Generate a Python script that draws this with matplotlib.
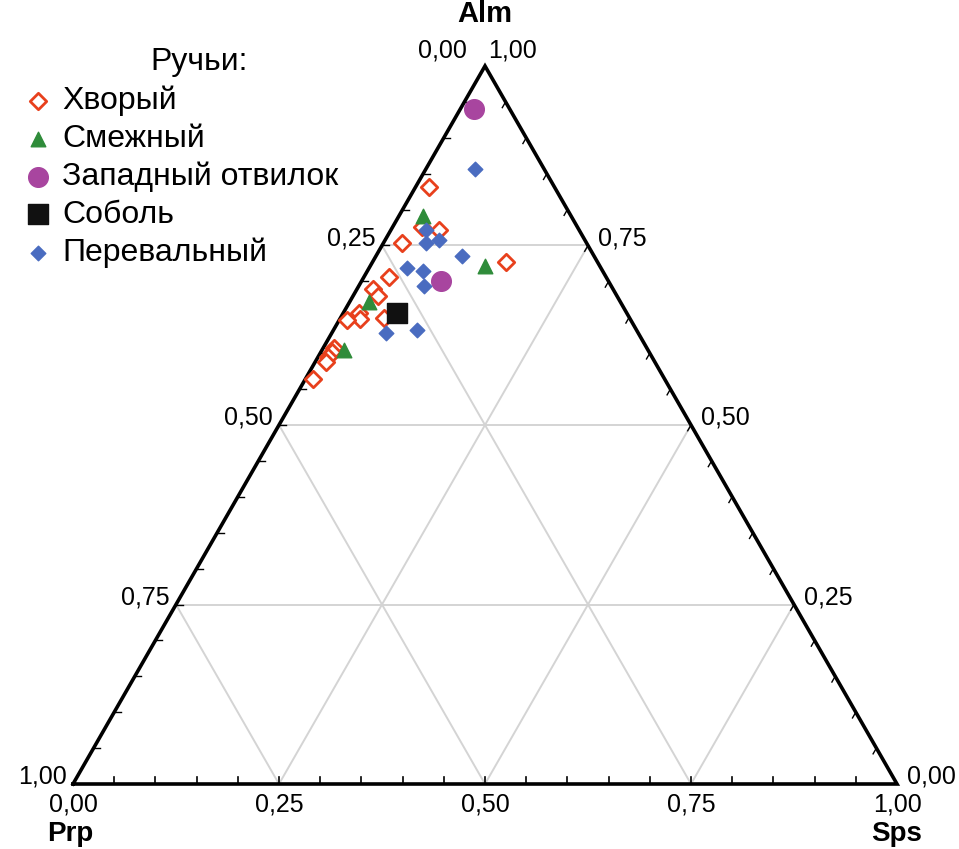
import matplotlib
matplotlib.use("Agg")
import matplotlib.pyplot as plt
import numpy as np

plt.rcParams["font.family"] = ["Liberation Sans", "DejaVu Sans"]

# garnet end-member fractions (Alm, Sps); Prp = 1 - Alm - Sps
khvoryi_alm = [0.831, 0.776, 0.772, 0.753, 0.727, 0.706, 0.690, 0.679, 0.656, 0.648,
               0.646, 0.649, 0.607, 0.602, 0.595, 0.588, 0.564]
khvoryi_sps = [0.016, 0.035, 0.058, 0.023, 0.162, 0.031, 0.019, 0.031, 0.019, 0.024,
               0.009, 0.053, 0.013, 0.013, 0.012, 0.013, 0.009]
smezhnyi_alm = [0.791, 0.721, 0.672, 0.605]
smezhnyi_sps = [0.029, 0.139, 0.023, 0.026]
zapadnyi_alm = [0.940, 0.700]
zapadnyi_sps = [0.017, 0.096]
sobol_alm = [0.656]
sobol_sps = [0.065]
perevalnyi_alm = [0.856, 0.771, 0.753, 0.757, 0.735, 0.719, 0.714, 0.693, 0.628, 0.633]
perevalnyi_sps = [0.060, 0.043, 0.052, 0.066, 0.105, 0.046, 0.068, 0.079, 0.066, 0.101]

grid_levels = [0.25, 0.50, 0.75]
tick_text = ["0,00", "0,25", "0,50", "0,75", "1,00"]

H = np.sqrt(3) / 2


def to_xy(alm, sps):
    alm = np.asarray(alm, dtype=float)
    sps = np.asarray(sps, dtype=float)
    return sps + alm / 2, alm * H


fig = plt.figure(figsize=(9.59, 8.49), dpi=100)
ax = fig.add_axes([0, 0, 1, 1])
ax.set_xlim(-73 / 824, (959 - 73) / 824)
ax.set_ylim(-(849 - 784) / 829.1, H + 66 / 829.1)
ax.axis("off")

# grid lines for each component
for g in grid_levels:
    # constant Alm
    x, y = to_xy([g, g], [0, 1 - g])
    ax.plot(x, y, color="#d4d4d4", lw=1.4, zorder=1)
    # constant Sps
    x, y = to_xy([0, 1 - g], [g, g])
    ax.plot(x, y, color="#d4d4d4", lw=1.4, zorder=1)
    # constant Prp
    x, y = to_xy([0, 1 - g], [1 - g, 0])
    ax.plot(x, y, color="#d4d4d4", lw=1.4, zorder=1)

# triangle frame
ax.plot([0, 1, 0.5, 0], [0, 0, H, 0], color="black", lw=2.6, zorder=3,
        solid_joinstyle="miter")

# small ticks every 0.05
tl = 0.008
for t in np.arange(0.05, 1.0, 0.05):
    ax.plot([t, t], [0, tl], color="black", lw=1.2, zorder=3)
    lx, ly = to_xy(1 - t, 0)
    ax.plot([lx, lx + tl], [ly, ly], color="black", lw=1.0, zorder=3)
    rx, ry = to_xy(t, 1 - t)
    ax.plot([rx, rx - tl * 0.5], [ry, ry - tl * H], color="black", lw=1.0, zorder=3)

fs = 18
for i, txt in enumerate(tick_text):
    v = i * 0.25
    # bottom axis: Sps
    ax.text(v, -0.010, tick_text[i], ha="center", va="top", fontsize=fs)
    # left axis: Prp (0 at apex)
    lx, ly = to_xy(1 - v, 0)
    if i == 0:
        ax.text(lx - 0.022, ly + 0.004, txt, ha="right", va="bottom", fontsize=fs)
    else:
        ax.text(lx - 0.008, ly - 0.006, txt, ha="right", va="bottom", fontsize=fs)
    # right axis: Alm
    rx, ry = to_xy(v, 1 - v)
    if i == 4:
        ax.text(rx + 0.004, ry + 0.004, txt, ha="left", va="bottom", fontsize=fs)
    else:
        ax.text(rx + 0.012, ry - 0.006, txt, ha="left", va="bottom", fontsize=fs)

ax.text(0.5, H + 0.063, "Alm", ha="center", va="center", fontsize=21, fontweight="bold")
ax.text(-0.003, -0.0685, "Prp", ha="center", va="baseline", fontsize=20, fontweight="bold")
ax.text(1.0, -0.0685, "Sps", ha="center", va="baseline", fontsize=20, fontweight="bold")

series = [
    ("Хворый", khvoryi_alm, khvoryi_sps,
     dict(marker="D", facecolors="white", edgecolors="#e8401c", linewidths=2.0, s=70)),
    ("Смежный", smezhnyi_alm, smezhnyi_sps,
     dict(marker="^", c="#2f8c3a", s=110)),
    ("Западный отвилок", zapadnyi_alm, zapadnyi_sps,
     dict(marker="o", c="#a8459f", s=200)),
    ("Соболь", sobol_alm, sobol_sps,
     dict(marker="s", c="#111111", s=190)),
    ("Перевальный", perevalnyi_alm, perevalnyi_sps,
     dict(marker="D", c="#4a6cc0", s=55)),
]
for label, alm, sps, style in series:
    x, y = to_xy(alm, sps)
    ax.scatter(x, y, label=label, zorder=4, **style)

ax.text(0.2075, 0.927, "Ручьи:", transform=fig.transFigure, ha="center", va="center",
        fontsize=23)
leg = ax.legend(loc="upper left", bbox_to_anchor=(0.013, 0.914), frameon=False,
                fontsize=23, handletextpad=0.35, labelspacing=0.24, borderaxespad=0,
                handlelength=0.8, scatterpoints=1)

fig.savefig("out.png", dpi=100)
